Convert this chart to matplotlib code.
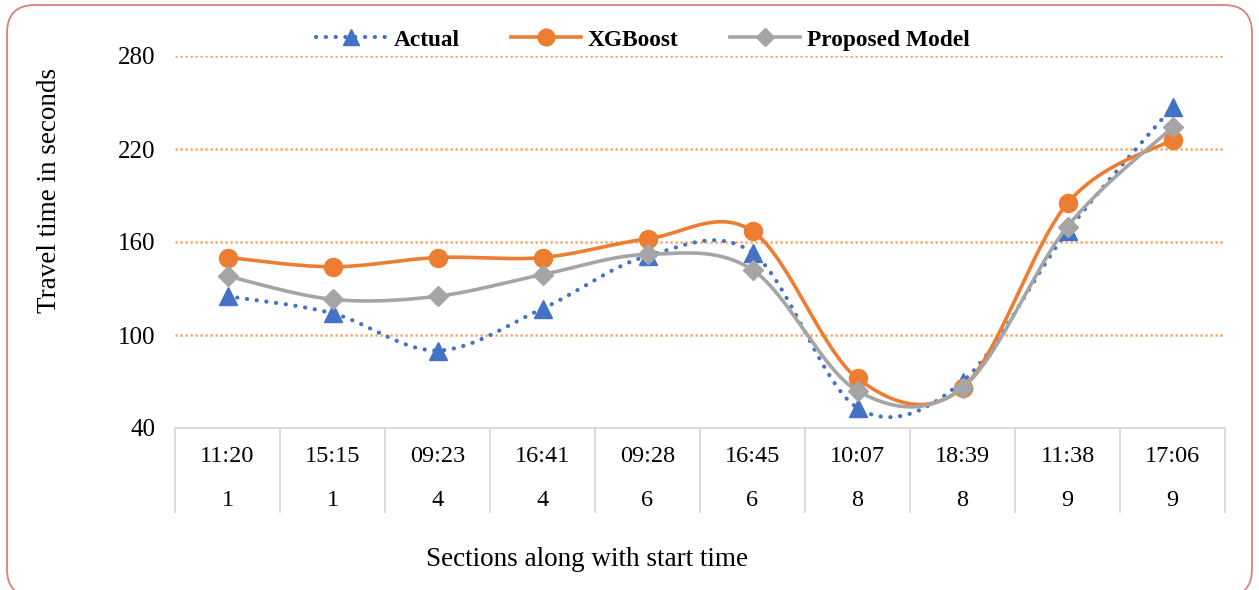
import numpy as np
import matplotlib
matplotlib.use("Agg")
import matplotlib.pyplot as plt
from matplotlib.patches import FancyBboxPatch
from matplotlib.lines import Line2D

plt.rcParams['font.family'] = ['Liberation Serif', 'DejaVu Serif']

# ---- data -------------------------------------------------------------
start_times = ["11:20", "15:15", "09:23", "16:41", "09:28",
               "16:45", "10:07", "18:39", "11:38", "17:06"]
sections = ["1", "1", "4", "4", "6", "6", "8", "8", "9", "9"]

actual = [125, 114, 90, 117, 151, 153, 53, 70, 167, 247]
xgboost = [150, 144, 150, 150, 162, 167, 72, 66, 185, 226]
proposed = [138, 123, 125, 139, 152, 142, 64, 66, 170, 234]

y_ticks = [40, 100, 160, 220, 280]

C_ACT = "#4472C4"
C_XGB = "#ED7D31"
C_PRO = "#A5A5A5"


def smooth(xs, ys, n=40):
    """Catmull-Rom style smoothing of a polyline (as used by spreadsheet charts)."""
    xs = np.asarray(xs, float)
    ys = np.asarray(ys, float)
    px = np.concatenate([[xs[0]], xs, [xs[-1]]])
    py = np.concatenate([[ys[0]], ys, [ys[-1]]])
    out_x, out_y = [], []
    t = np.linspace(0, 1, n)
    for i in range(1, len(px) - 2):
        p0 = np.array([px[i], py[i]])
        p3 = np.array([px[i + 1], py[i + 1]])
        p1 = p0 + (np.array([px[i + 1], py[i + 1]]) - np.array([px[i - 1], py[i - 1]])) / 6
        p2 = p3 - (np.array([px[i + 2], py[i + 2]]) - np.array([px[i], py[i]])) / 6
        b = ((1 - t) ** 3)[:, None] * p0 + (3 * (1 - t) ** 2 * t)[:, None] * p1 \
            + (3 * (1 - t) * t ** 2)[:, None] * p2 + (t ** 3)[:, None] * p3
        out_x.extend(b[:, 0])
        out_y.extend(b[:, 1])
    return np.array(out_x), np.array(out_y)


W, H = 1259, 590
fig = plt.figure(figsize=(W / 100, H / 100), dpi=100)

# rounded outer frame
bg = fig.add_axes([0, 0, 1, 1], zorder=0)
bg.set_xlim(0, W)
bg.set_ylim(H, 0)
bg.axis("off")
bg.add_patch(FancyBboxPatch((7, 5), 1245, 592,
                            boxstyle="round,pad=0,rounding_size=28",
                            facecolor="white", edgecolor="#D9827D", lw=1.3))

L, R, T, B = 175, 1225, 56, 428
ax = fig.add_axes([L / W, 1 - B / H, (R - L) / W, (B - T) / H], zorder=1)
ax.set_facecolor("none")

x = np.arange(len(start_times)) + 0.5
ax.set_xlim(0, len(start_times))
ax.set_ylim(40, 280)

# horizontal gridlines
for yv in y_ticks[1:]:
    ax.axhline(yv, color="#F4A261", lw=1.8, linestyle=(0, (0.9, 1.1)), zorder=1)

sx, sy = smooth(x, actual)
ax.plot(sx, sy, color=C_ACT, lw=3.0, linestyle=(0, (0.05, 2.3)),
        dash_capstyle="round", zorder=3)
ax.plot(x, actual, linestyle="none", marker="^", ms=13, color=C_ACT, zorder=3)

sx, sy = smooth(x, xgboost)
ax.plot(sx, sy, color=C_XGB, lw=2.6, zorder=4, solid_capstyle="round")
ax.plot(x, xgboost, linestyle="none", marker="o", ms=13, color=C_XGB, zorder=4)

sx, sy = smooth(x, proposed)
ax.plot(sx, sy, color=C_PRO, lw=2.6, zorder=5, solid_capstyle="round")
ax.plot(x, proposed, linestyle="none", marker="D", ms=10, color=C_PRO, zorder=5)

# axes styling
for s in ["top", "right", "left"]:
    ax.spines[s].set_visible(False)
ax.spines["bottom"].set_color("#D9D9D9")
ax.spines["bottom"].set_linewidth(1.3)
ax.set_yticks(y_ticks)
ax.set_yticklabels([str(v) for v in y_ticks], fontsize=18)
ax.tick_params(axis="y", length=0, pad=14)
ax.set_xticks([])

# two-level category table under the axis
tb = ax.get_xaxis_transform()
depth = 85 / (B - T)
ax.vlines(np.arange(len(start_times) + 1), -depth, 0, transform=tb,
          color="#D9D9D9", lw=1.3, clip_on=False)
for xi, st, sec in zip(x, start_times, sections):
    ax.text(xi, -29 / (B - T), st, transform=tb, ha="center", va="center", fontsize=17.5)
    ax.text(xi, -72 / (B - T), sec, transform=tb, ha="center", va="center", fontsize=17.5)

fig.text(50 / W, 1 - 190 / H, "Travel time in seconds", rotation=90,
         ha="center", va="center", fontsize=19.5)
fig.text(587 / W, 1 - 560 / H, "Sections along with start time",
         ha="center", va="center", fontsize=19.5)

handles = [
    Line2D([], [], color=C_ACT, lw=3.0, linestyle=(0, (0.05, 2.3)),
           dash_capstyle="round", marker="^", ms=12),
    Line2D([], [], color=C_XGB, lw=2.6, marker="o", ms=12),
    Line2D([], [], color=C_PRO, lw=2.6, marker="D", ms=9),
]
fig.legend(handles, ["Actual", "XGBoost", "Proposed Model"],
           loc="center", bbox_to_anchor=(643 / W, 1 - 40 / H), ncol=3,
           frameon=False, prop={"weight": "bold", "size": 16.8},
           handlelength=3.0, columnspacing=2.2, handletextpad=0.3)

fig.savefig("out.png", dpi=100)
